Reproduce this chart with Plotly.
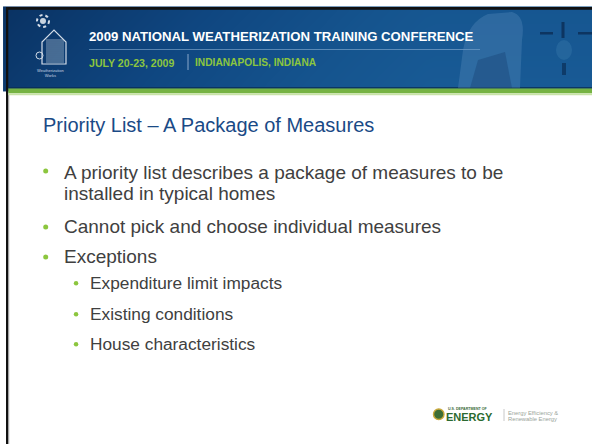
import plotly.graph_objects as go
import numpy as np

W, H = 592, 444

conf_title = "2009 NATIONAL WEATHERIZATION TRAINING CONFERENCE"
conf_date = "JULY 20-23, 2009"
conf_place = "INDIANAPOLIS, INDIANA"
slide_title = "Priority List \u2013 A Package of Measures"
bullet_lines = [
    "A priority list describes a package of measures to be",
    "installed in typical homes",
    "Cannot pick and choose individual measures",
    "Exceptions",
]
sub_bullets = [
    "Expenditure limit impacts",
    "Existing conditions",
    "House characteristics",
]
logo_words = ["U.S. DEPARTMENT OF", "ENERGY", "Energy Efficiency &", "Renewable Energy"]

FONT = "Liberation Sans, Arial, sans-serif"

fig = go.Figure()

# Banner gradient background (heatmap)
gx = np.linspace(8, W, 60)
gy = np.linspace(10, 88, 12)
zz = np.array([[min(1.0, (xx - 8) / 420.0) * 0.85 + (yy - 10) / 78 * 0.15 for xx in gx] for yy in gy])
fig.add_trace(go.Heatmap(
    x=gx, y=gy, z=zz, zsmooth="best", showscale=False, hoverinfo="skip",
    colorscale=[[0, "#0a3364"], [0.4, "#0f4680"], [0.75, "#15548e"], [1, "#185a95"]],
))

shapes = []
shapes.append(dict(type="rect", x0=6, x1=W, y0=7, y1=9.8, fillcolor="#111111", line_width=0, layer="above"))
shapes.append(dict(type="rect", x0=6, x1=8.3, y0=7, y1=H, fillcolor="#111111", line_width=0, layer="above"))
shapes.append(dict(type="rect", x0=8.3, x1=9.2, y0=94, y1=H, fillcolor="#9a9a9a", line_width=0, layer="above"))
shapes.append(dict(type="rect", x0=8.3, x1=W, y0=88.3, y1=93.3, fillcolor="#76b343", line_width=0, layer="above"))
shapes.append(dict(type="rect", x0=8.3, x1=W, y0=93.3, y1=95.3, fillcolor="#c9e3a8", line_width=0, layer="above"))
shapes.append(dict(type="rect", x0=8.3, x1=W, y0=87.3, y1=88.3, fillcolor="#0a2c55", line_width=0, layer="above"))
shapes.append(dict(type="line", x0=89, x1=480, y0=49.5, y1=49.5, line=dict(color="rgba(150,185,220,0.55)", width=1), layer="above"))
shapes.append(dict(type="line", x0=188, x1=188, y0=54, y1=70, line=dict(color="rgba(190,210,235,0.7)", width=1), layer="above"))
shapes.append(dict(type="path", path="M 458 88 L 463 50 Q 468 22 488 14 L 512 12 Q 526 16 522 40 L 520 88 Z",
                   fillcolor="rgba(100,150,195,0.30)", line_width=0, layer="above"))
shapes.append(dict(type="path", path="M 470 88 L 478 60 L 505 52 L 512 88 Z",
                   fillcolor="rgba(20,60,110,0.35)", line_width=0, layer="above"))
shapes.append(dict(type="rect", x0=561.5, x1=564.5, y0=22, y1=38, fillcolor="rgba(8,35,70,0.65)", line_width=0, layer="above"))
shapes.append(dict(type="rect", x0=540, x1=553, y0=32, y1=34.5, fillcolor="rgba(8,35,70,0.65)", line_width=0, layer="above"))
shapes.append(dict(type="rect", x0=578, x1=W, y0=32, y1=34.5, fillcolor="rgba(8,35,70,0.65)", line_width=0, layer="above"))
shapes.append(dict(type="circle", x0=556, x1=572, y0=40, y1=60, fillcolor="rgba(60,125,175,0.35)", line_width=0, layer="above"))
shapes.append(dict(type="rect", x0=562, x1=566, y0=63, y1=75, fillcolor="rgba(8,35,70,0.55)", line_width=0, layer="above"))

# Weatherization Works logo (simplified)
shapes.append(dict(type="circle", x0=37, x1=49, y0=15, y1=27, fillcolor="rgba(0,0,0,0)", line=dict(color="#d4dde8", width=2, dash="dot"), layer="above"))
shapes.append(dict(type="circle", x0=40, x1=46, y0=18, y1=24, fillcolor="#c8d4e0", line_width=0, layer="above"))
shapes.append(dict(type="path", path="M 42 64 L 42 42 L 54 30 L 66 42 L 66 64 Z",
                   fillcolor="rgba(0,0,0,0)", line=dict(color="#d4dde8", width=1.2), layer="above"))
for yy in range(40, 64, 2):
    shapes.append(dict(type="line", x0=46, x1=64, y0=yy, y1=yy, line=dict(color="rgba(200,212,225,0.8)", width=0.8), layer="above"))
shapes.append(dict(type="circle", x0=36, x1=43, y0=52, y1=59, fillcolor="rgba(0,0,0,0)", line=dict(color="#d4dde8", width=1), layer="above"))

main_dot_y = [171, 227, 257]
for yy in main_dot_y:
    shapes.append(dict(type="circle", x0=43.2, x1=48.2, y0=yy - 2.5, y1=yy + 2.5, fillcolor="#8cc63e", line_width=0, layer="above"))
sub_y = [283.3, 314.3, 344.3]
for yy in sub_y:
    shapes.append(dict(type="circle", x0=73.8, x1=78.3, y0=yy - 2.25, y1=yy + 2.25, fillcolor="#8cc63e", line_width=0, layer="above"))

shapes.append(dict(type="circle", x0=433.5, x1=444, y0=409, y1=419.5, fillcolor="#3d6e35", line=dict(color="#c9a83a", width=1.4), layer="above"))
shapes.append(dict(type="line", x0=504, x1=504, y0=409, y1=421, line=dict(color="#c8c8c8", width=1), layer="above"))

annotations = []
annotations.append(dict(x=87, y=36.5, text="<b>" + conf_title + "</b>", xanchor="left", yanchor="middle", showarrow=False,
                        font=dict(family=FONT, size=13.2, color="#ffffff")))
annotations.append(dict(x=87, y=62.5, text="<b>" + conf_date + "</b>", xanchor="left", yanchor="middle", showarrow=False,
                        font=dict(family=FONT, size=10.6, color="#8cc63e")))
annotations.append(dict(x=193, y=62.5, text="<b>" + conf_place + "</b>", xanchor="left", yanchor="middle", showarrow=False,
                        font=dict(family=FONT, size=10.2, color="#8cc63e")))
annotations.append(dict(x=50, y=73, text="Weatherization<br>Works", xanchor="center", yanchor="middle", showarrow=False,
                        font=dict(family=FONT, size=4, color="#c8d4e0")))

annotations.append(dict(x=41, y=125, text=slide_title, xanchor="left", yanchor="middle", showarrow=False,
                        font=dict(family=FONT, size=20, color="#1a4a86")))

main_y = [172.5, 193, 226, 256]
for t, yy in zip(bullet_lines, main_y):
    annotations.append(dict(x=62, y=yy, text=t, xanchor="left", yanchor="middle", showarrow=False, align="left",
                            font=dict(family=FONT, size=19, color="#404040")))
for t, yy in zip(sub_bullets, sub_y):
    annotations.append(dict(x=88, y=yy, text=t, xanchor="left", yanchor="middle", showarrow=False, align="left",
                            font=dict(family=FONT, size=17.3, color="#404040")))

annotations.append(dict(x=445.5, y=408.5, text="<b>" + logo_words[0] + "</b>", xanchor="left", yanchor="middle", showarrow=False,
                        font=dict(family=FONT, size=3.6, color="#3a6a3a")))
annotations.append(dict(x=443.5, y=416.5, text="<b>" + logo_words[1] + "</b>", xanchor="left", yanchor="middle", showarrow=False,
                        font=dict(family=FONT, size=11, color="#2b6a30")))
annotations.append(dict(x=505.5, y=412.5, text=logo_words[2], xanchor="left", yanchor="middle",
                        showarrow=False, font=dict(family=FONT, size=5.8, color="#9aa59a")))
annotations.append(dict(x=505.5, y=418.5, text=logo_words[3], xanchor="left", yanchor="middle",
                        showarrow=False, font=dict(family=FONT, size=5.8, color="#9aa59a")))

fig.update_layout(
    width=W, height=H, margin=dict(l=0, r=0, t=0, b=0),
    paper_bgcolor="#ffffff", plot_bgcolor="#ffffff",
    xaxis=dict(range=[0, W], visible=False, fixedrange=True),
    yaxis=dict(range=[H, 0], visible=False, fixedrange=True),
    shapes=shapes, annotations=annotations, showlegend=False,
)

fig.write_html("out.html", config={"displayModeBar": False},
               post_script="document.body.style.margin='0';document.body.style.overflow='hidden';")
